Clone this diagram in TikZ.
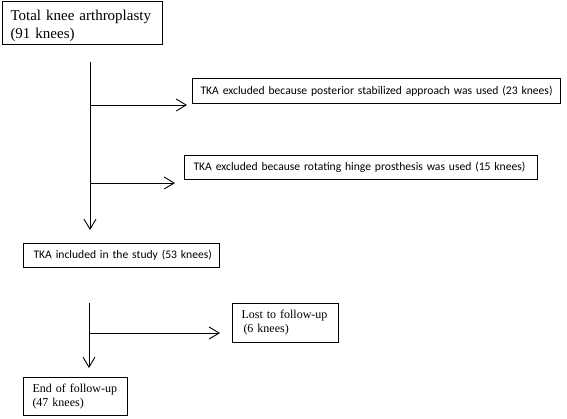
\documentclass[tikz,border=0pt]{standalone}
\usepackage{fontspec}
\setmainfont{Liberation Serif}
\newfontfamily\calib{Carlito}
\usetikzlibrary{arrows.meta}
\newcommand{\padtxt}[2]{\mbox{\hspace*{#1}#2}}
\begin{document}
\begin{tikzpicture}[x=1pt,y=-1pt,
  box/.style={draw,line width=1pt,anchor=north west,align=left,inner sep=0pt},
  sbox/.style={box,font=\calib\fontsize{11.6}{14}\selectfont},
  conn/.style={line width=0.9pt,-{Straight Barb[length=10pt,width=12pt,line width=0.9pt]}}]
\useasboundingbox (0,0) rectangle (567,418);
\node[box,minimum height=43pt,text width=160pt,font=\fontsize{15}{18}\selectfont,text depth=16pt] (total) at (2,1) {\padtxt{8pt}{Total knee arthroplasty}\\\padtxt{8pt}{(91 knees)}};
\node[sbox,minimum height=25pt,text width=368pt] (ps) at (192,78) {\padtxt{8pt}{TKA excluded because posterior stabilized approach was used (23 knees)}};
\node[sbox,minimum height=24pt,text width=353pt] (rh) at (184,155) {\padtxt{9pt}{TKA excluded because rotating hinge prosthesis was used (15 knees)}};
\node[sbox,minimum height=24pt,text width=196pt] (inc) at (23,243) {\padtxt{10pt}{TKA included in the study (53 knees)}};
\node[box,minimum height=39pt,text width=106pt,font=\fontsize{12}{14}\selectfont] (lost) at (232,303) {\padtxt{9pt}{Lost to follow-up}\\\padtxt{11pt}{(6 knees)}};
\node[box,minimum height=38pt,text width=104pt,font=\fontsize{12}{14}\selectfont] (end) at (23,377) {\padtxt{9pt}{End of follow-up}\\\padtxt{9pt}{(47 knees)}};
\coordinate (a0) at (90,62);
\coordinate (a1) at (90,105);
\coordinate (a2) at (90,183);
\coordinate (a3) at (90,230);
\coordinate (b0) at (89,303);
\coordinate (b1) at (89,333);
\coordinate (b3) at (89,368);
\coordinate (t1) at (187,105);
\coordinate (t2) at (175,183);
\coordinate (t3) at (220,333);
\draw[conn] (a0) -- (a3);
\draw[conn] (a1) -- (t1);
\draw[conn] (a2) -- (t2);
\draw[conn] (b0) -- (b3);
\draw[conn] (b1) -- (t3);
\end{tikzpicture}
\end{document}
